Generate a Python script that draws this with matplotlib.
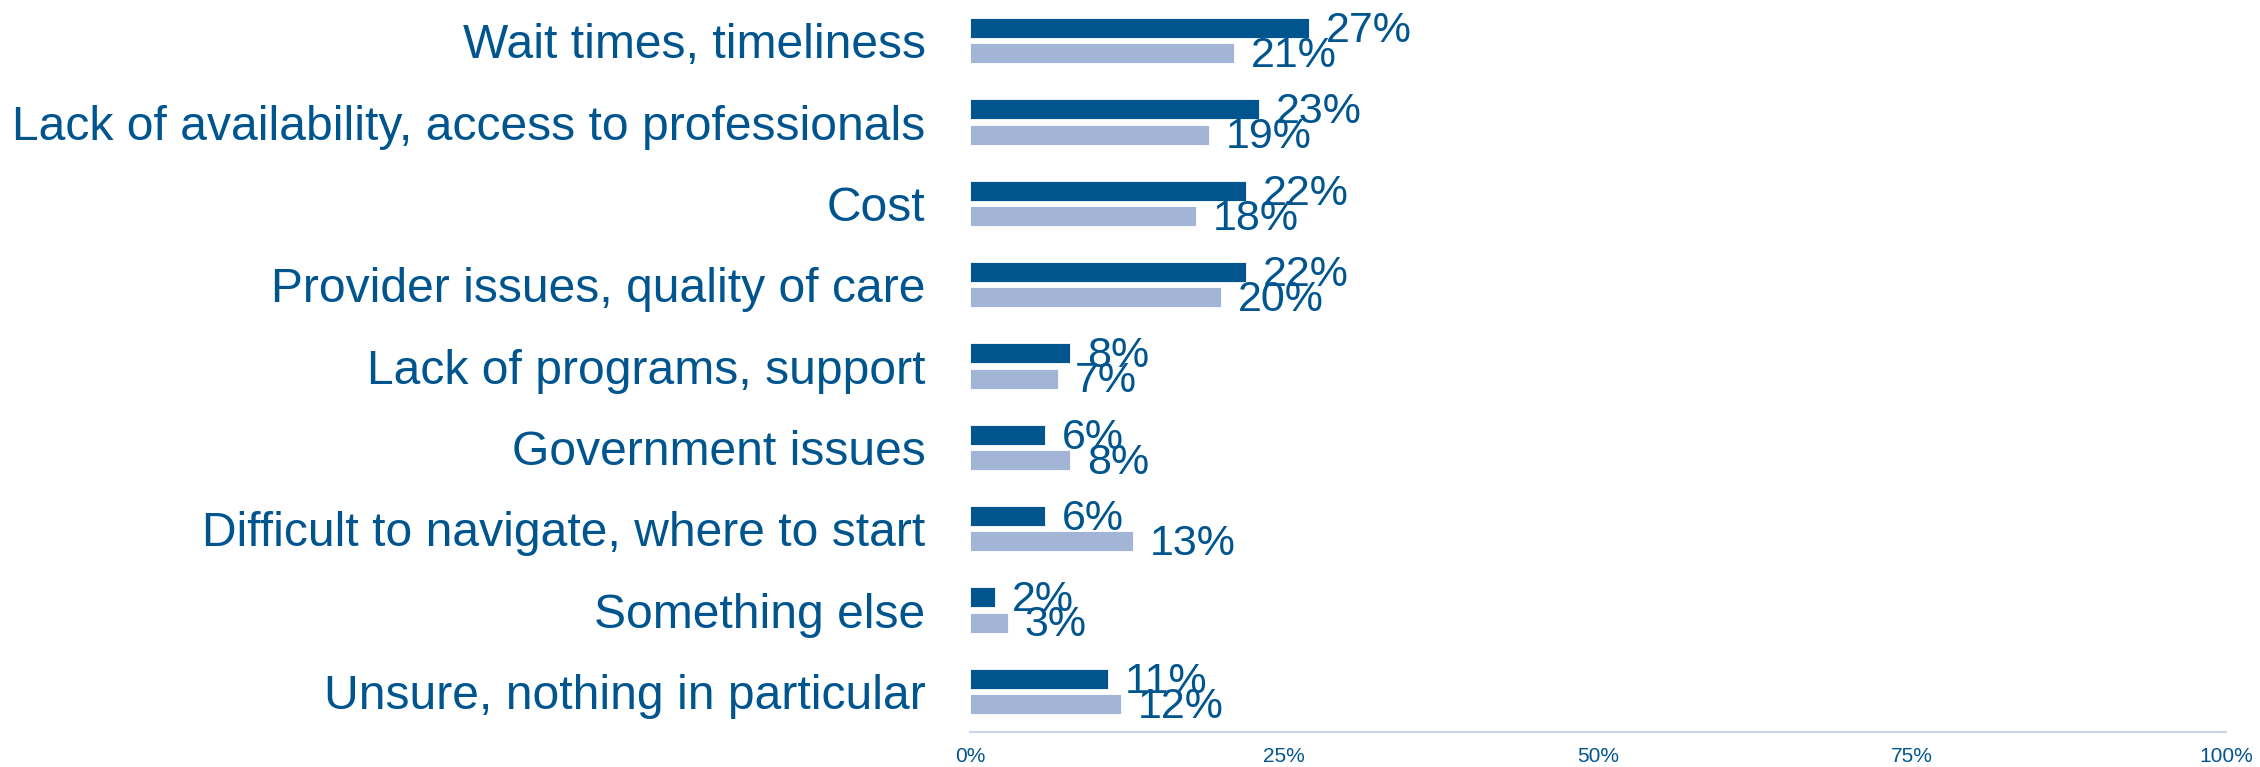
import matplotlib
matplotlib.use("Agg")
import matplotlib.pyplot as plt
import numpy as np

categories = [
    "Wait times, timeliness",
    "Lack of availability, access to professionals",
    "Cost",
    "Provider issues, quality of care",
    "Lack of programs, support",
    "Government issues",
    "Difficult to navigate, where to start",
    "Something else",
    "Unsure, nothing in particular",
]
series_a = [27, 23, 22, 22, 8, 6, 6, 2, 11]
series_b = [21, 19, 18, 20, 7, 8, 13, 3, 12]
x_ticks = [0, 25, 50, 75, 100]

DARK = "#00558f"
LIGHT = "#a3b5d6"
AXIS = "#c9d4e7"

plt.rcParams["font.family"] = ["Liberation Sans", "DejaVu Sans"]

fig = plt.figure(figsize=(22.6, 7.67), dpi=100)
ax = fig.add_axes([0.4292, 0.0456, 0.5558, 0.9544])

y = np.arange(len(categories))
bar_h = 0.245
off = 0.155

ax.barh(y - off, series_a, height=bar_h, color=DARK, edgecolor="white", linewidth=0.6)
ax.barh(y + off, series_b, height=bar_h, color=LIGHT, edgecolor="white", linewidth=0.6)

# value labels sit just right of each bar end
for yi, a, b in zip(y, series_a, series_b):
    ax.annotate(f"{a}%", (a, yi - off), xytext=(12, -2), textcoords="offset points",
                va="center", ha="left", color=DARK, fontsize=31)
    ax.annotate(f"{b}%", (b, yi + off), xytext=(12, -2), textcoords="offset points",
                va="center", ha="left", color=DARK, fontsize=31)

ax.set_xlim(0, 100)
ax.set_ylim(len(categories) - 0.5, -0.5)
ax.set_yticks(y)
ax.set_yticklabels(categories, fontsize=34.6, color=DARK)
ax.set_xticks(x_ticks)
ax.set_xticklabels([f"{t}%" for t in x_ticks], fontsize=15, color=DARK)
ax.tick_params(axis="y", length=0, pad=32)
ax.tick_params(axis="x", length=0, pad=11)

for side in ["top", "right", "left"]:
    ax.spines[side].set_visible(False)
ax.spines["bottom"].set_color(AXIS)
ax.spines["bottom"].set_linewidth(1.5)

fig.savefig("out.png", dpi=100)
